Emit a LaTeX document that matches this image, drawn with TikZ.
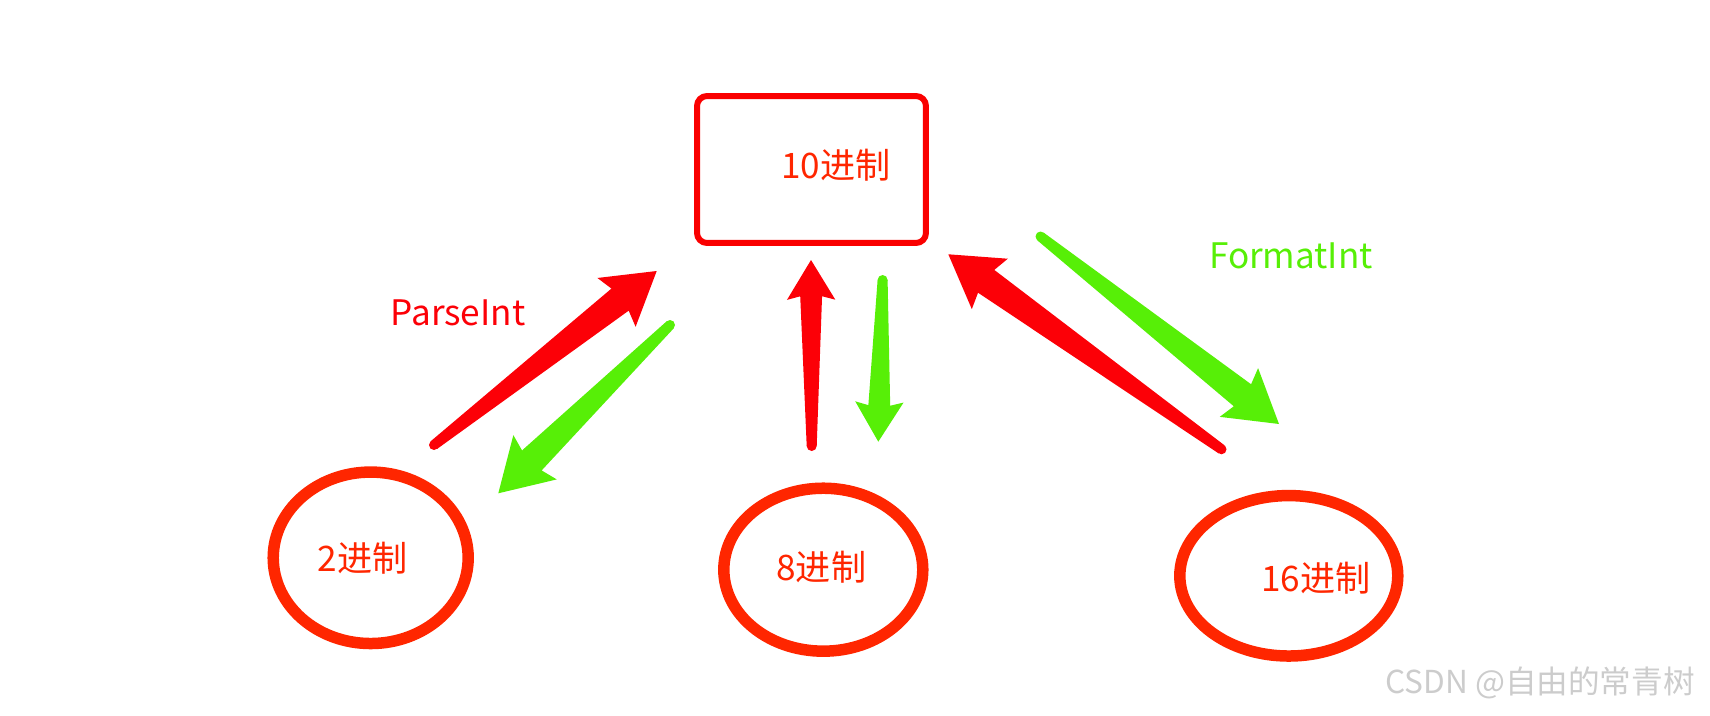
\documentclass[tikz,border=0pt]{standalone}
\usepackage{fontspec}
\setmainfont{Noto Sans CJK SC}
\usetikzlibrary{shapes.geometric,calc}

\definecolor{boxred}{RGB}{250,0,0}
\definecolor{ringred}{RGB}{255,38,0}
\definecolor{arrowred}{RGB}{252,0,7}
\definecolor{arrowgreen}{RGB}{87,239,7}

\tikzset{
  ring/.style={draw=ringred, ellipse, line width=0.23cm, inner sep=0pt},
  lbl/.style={inner sep=0pt, font=\fontsize{20pt}{24pt}\selectfont},
}

% tapered arrow: [scale]{colour}{tail}{tip}
\newcommand{\taperarrow}[4][1]{%
  \fill[#2] let \p1=($(#4)-(#3)$), \n1={atan2(\y1,\x1)}, \n2={veclen(\x1,\y1)},
      \n3={\n2-0.93cm*#1}, \n4={\n2-1.02cm*#1} in
    ($(#3)+(\n1+90:0.1cm)$)
    -- ($(#3)+(\n1:\n3)+(\n1+90:0.28cm*#1)$)
    -- ($(#3)+(\n1:\n4)+(\n1+90:0.62cm*#1)$)
    -- (#4)
    -- ($(#3)+(\n1:\n4)+(\n1-90:0.62cm*#1)$)
    -- ($(#3)+(\n1:\n3)+(\n1-90:0.28cm*#1)$)
    -- ($(#3)+(\n1-90:0.1cm)$) -- cycle;
  \fill[#2] (#3) circle[radius=0.1cm];
}

\begin{document}
\begin{tikzpicture}[x=0.02cm, y=-0.02cm]
  \useasboundingbox (0,0) rectangle (1710,716);

  \node[draw=boxred, line width=0.12cm, rounded corners=0.2cm, inner sep=0pt, minimum width=4.58cm, minimum height=2.94cm] (dec) at (811.5,169.5) {};
  \node[lbl, text=ringred] (declbl) at (836,165) {10进制};

  \node[ring, minimum width=3.9cm, minimum height=3.43cm] (bin) at (370.7,557.8) {};
  \node[ring, minimum width=3.98cm, minimum height=3.26cm] (oct) at (823.3,569.7) {};
  \node[ring, minimum width=4.36cm, minimum height=3.21cm] (hex) at (1288.8,575.8) {};
  \node[lbl, text=ringred] (binlbl) at (362.7,558) {2进制};
  \node[lbl, text=ringred] (octlbl) at (821.3,567.5) {8进制};
  \node[lbl, text=ringred] (hexlbl) at (1315.8,578) {16进制};

  \node[lbl, text=arrowred] (parse) at (458,313) {ParseInt};
  \node[lbl, text=arrowgreen] (format) at (1291,256) {FormatInt};

  \coordinate (up2) at (434,445);      \coordinate (up2tip) at (656.7,271);
  \coordinate (dn2) at (670,325);      \coordinate (dn2tip) at (498.3,493.3);
  \coordinate (up8) at (811.7,446);    \coordinate (up8tip) at (811,260);
  \coordinate (dn8) at (882.6,280);    \coordinate (dn8tip) at (878.3,441.7);
  \coordinate (up16) at (1221.5,449.3); \coordinate (up16tip) at (948.3,254.3);
  \coordinate (dn16) at (1040.5,236.5); \coordinate (dn16tip) at (1279,424);

  \taperarrow{arrowred}{up2}{up2tip}
  \taperarrow{arrowgreen}{dn2}{dn2tip}
  \taperarrow[0.78]{arrowred}{up8}{up8tip}
  \taperarrow[0.78]{arrowgreen}{dn8}{dn8tip}
  \taperarrow{arrowred}{up16}{up16tip}
  \taperarrow{arrowgreen}{dn16}{dn16tip}

  \node[inner sep=0pt, text=gray!40, font=\fontsize{18pt}{22pt}\selectfont] (mark) at (1540,683) {CSDN @自由的常青树};
\end{tikzpicture}
\end{document}
